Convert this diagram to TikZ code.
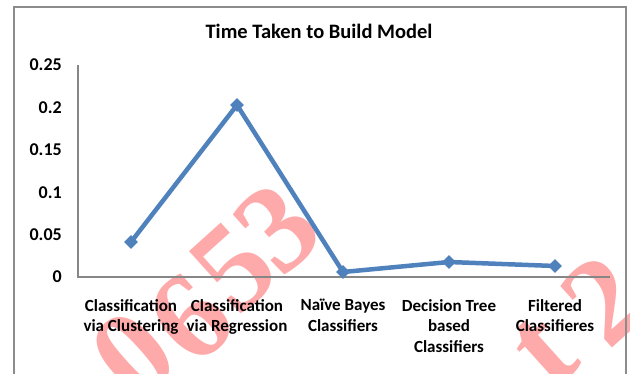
\documentclass[tikz,border=0pt]{standalone}
\usepackage{fontspec}
\setmainfont{Carlito}
\newfontfamily\wmfont{Liberation Serif}
\usetikzlibrary{shapes.geometric}
\definecolor{serblue}{HTML}{4F81BD}
\definecolor{axisgray}{HTML}{868686}
\definecolor{framegray}{HTML}{8C8C8C}
\definecolor{wmred}{HTML}{FFAAAA}
\tikzset{
  wm/.style={text=wmred, font=\wmfont\bfseries\fontsize{125}{125}\selectfont, inner sep=0pt, rotate=42},
  ticklbl/.style={anchor=east, font=\bfseries\fontsize{18}{18}\selectfont, inner sep=0pt},
  catlbl/.style={anchor=north, align=center, font=\bfseries\fontsize{17}{20.5}\selectfont, inner sep=0pt},
  mk/.style={diamond, fill=serblue, inner sep=0pt, minimum width=14pt, minimum height=14pt},
  series/.style={draw=serblue, line width=4.5pt, line join=round},
  axisline/.style={draw=axisgray, line width=2pt}
}
\begin{document}
\begin{tikzpicture}[x=1pt,y=-1pt]
\useasboundingbox (0,0) rectangle (630,373);
\fill[white] (0,0) rectangle (630,373);
% watermark
\node[wm] (w0) at (133,355) {0};
\node[wm] (w6) at (190,318) {6};
\node[wm] (w5) at (234,268) {5};
\node[wm] (w3) at (277,228) {3};
\node[wm] (wt) at (545,352) {t};
\node[wm] (w2) at (604,300) {2};
% frame
\draw[framegray, line width=2.5pt] (14,374) -- (14,7) -- (626,7) -- (626,374);
% title
\node[font=\bfseries\fontsize{20.5}{20.5}\selectfont] (title) at (319,31) {Time Taken to Build Model};
% axes
\coordinate (ytop) at (78,65);
\coordinate (orig) at (78,277);
\coordinate (xend) at (610,277);
\draw[axisline] (ytop) -- (orig) -- (xend);
% tick labels
\node[ticklbl] (t0) at (62,277) {0};
\node[ticklbl] (t1) at (62,234.6) {0.05};
\node[ticklbl] (t2) at (62,192.2) {0.1};
\node[ticklbl] (t3) at (62,149.8) {0.15};
\node[ticklbl] (t4) at (62,107.4) {0.2};
\node[ticklbl] (t5) at (62,65) {0.25};
% data
\coordinate (p1) at (131,242);
\coordinate (p2) at (237,105);
\coordinate (p3) at (343,272);
\coordinate (p4) at (449,262);
\coordinate (p5) at (555,266);
\draw[series] (p1) -- (p2) -- (p3) -- (p4) -- (p5);
\foreach \p in {p1,p2,p3,p4,p5} \node[mk] (m\p) at (\p) {};
% categories
\node[catlbl] (c1) at (131,299) {Classification\\via Clustering};
\node[catlbl] (c2) at (237,299) {Classification\\via Regression};
\node[catlbl] (c3) at (343,299) {Naïve Bayes\\Classifiers};
\node[catlbl] (c4) at (449,299) {Decision Tree\\based\\Classifiers};
\node[catlbl] (c5) at (555,299) {Filtered\\Classifieres};
\end{tikzpicture}
\end{document}
